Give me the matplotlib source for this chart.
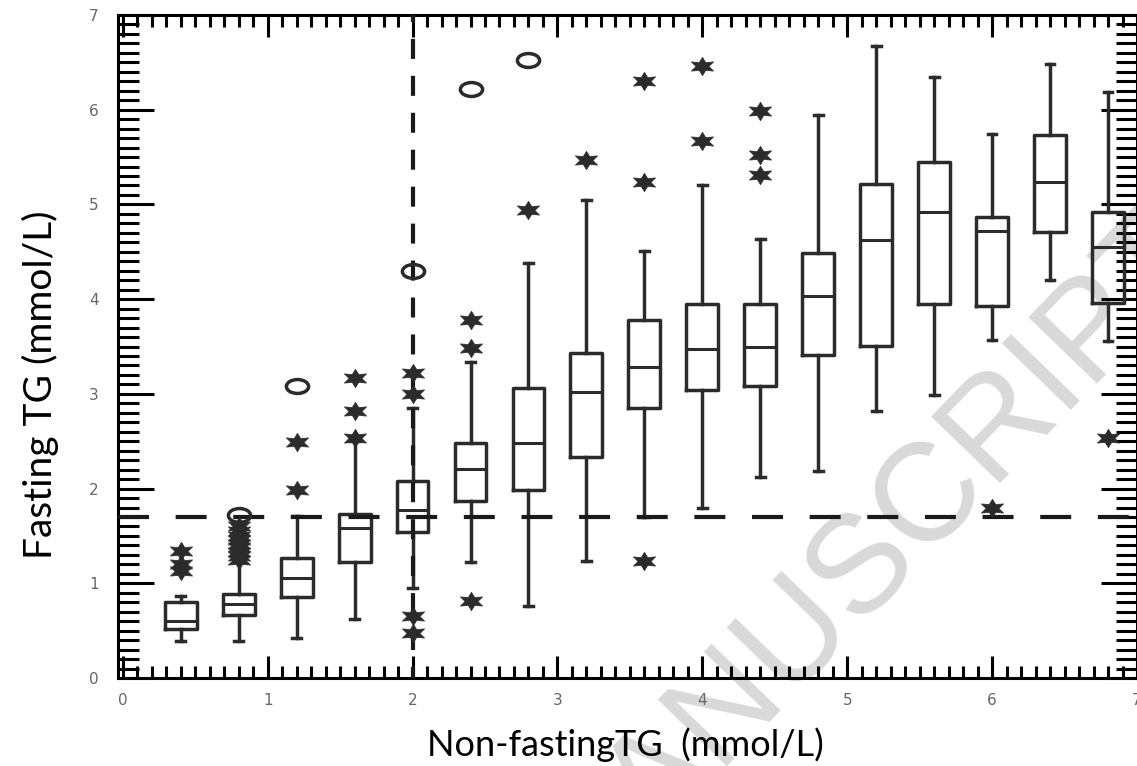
import numpy as np
import matplotlib
matplotlib.use("Agg")
import matplotlib.pyplot as plt
from matplotlib.path import Path
from matplotlib.ticker import MultipleLocator

plt.rcParams['lines.scale_dashes'] = False

# ---- data ----
positions = [0.4, 0.8, 1.2, 1.6, 2.0, 2.4, 2.8, 3.2, 3.6, 4.0, 4.4, 4.8, 5.2, 5.6, 6.0, 6.4, 6.8]
q1 = [0.52, 0.66, 0.85, 1.22, 1.54, 1.87, 1.98, 2.33, 2.85, 3.04, 3.08, 3.41, 3.51, 3.95, 3.93, 4.71, 3.96]
medians = [0.60, 0.78, 1.06, 1.58, 1.77, 2.21, 2.48, 3.02, 3.28, 3.47, 3.50, 4.03, 4.62, 4.92, 4.72, 5.24, 4.55]
q3 = [0.80, 0.89, 1.27, 1.73, 2.08, 2.48, 3.06, 3.43, 3.78, 3.95, 3.95, 4.49, 5.22, 5.45, 4.87, 5.73, 4.92]
whisk_lo = [0.39, 0.39, 0.42, 0.62, 0.95, 1.22, 0.76, 1.24, 1.70, 1.80, 2.12, 2.19, 2.82, 2.99, 3.57, 4.20, 3.56]
whisk_hi = [0.87, 1.22, 1.71, 2.50, 2.85, 3.34, 4.38, 5.05, 4.51, 5.20, 4.63, 5.94, 6.67, 6.35, 5.74, 6.48, 6.19]

star_x = [0.4, 0.4, 0.4,
          0.8, 0.8, 0.8, 0.8, 0.8, 0.8, 0.8, 0.8, 0.8,
          1.2, 1.2,
          1.6, 1.6, 1.6,
          2.0, 2.0, 2.0, 2.0,
          2.4, 2.4, 2.4,
          2.8, 3.2,
          3.6, 3.6, 3.6,
          4.0, 4.0,
          4.4, 4.4, 4.4,
          6.0, 6.8]
star_y = [1.13, 1.20, 1.34,
          1.25, 1.29, 1.33, 1.38, 1.42, 1.46, 1.50, 1.55, 1.60,
          1.99, 2.49,
          2.53, 2.82, 3.17,
          3.00, 3.22, 0.65, 0.48,
          3.48, 3.78, 0.81,
          4.94, 5.47,
          5.24, 6.30, 1.24,
          5.67, 6.46,
          5.31, 5.52, 5.99,
          1.80, 2.53]
circle_x = [0.8, 1.2, 2.0, 2.4, 2.8]
circle_y = [1.72, 3.08, 4.30, 6.22, 6.52]

fasting_cut = 1.7
nonfasting_cut = 2.0
xticks = [0, 1, 2, 3, 4, 5, 6, 7]
yticks = [0, 1, 2, 3, 4, 5, 6, 7]

# ---- figure ----
W, H = 1137, 766
fig = plt.figure(figsize=(W / 100, H / 100), dpi=100)
ax = fig.add_axes([118 / W, 1 - 678 / H, (1137 - 118) / W, (678 - 15) / H])

dark = '#2b2b2b'
stats = [dict(med=m, q1=a, q3=b, whislo=lo, whishi=hi, fliers=[])
         for m, a, b, lo, hi in zip(medians, q1, q3, whisk_lo, whisk_hi)]
ax.bxp(stats, positions=positions, widths=0.22, capwidths=0.06,
       showfliers=False, manage_ticks=False,
       boxprops=dict(color=dark, lw=2.5),
       whiskerprops=dict(color=dark, lw=2.5),
       capprops=dict(color=dark, lw=2.5),
       medianprops=dict(color=dark, lw=2.2))

# asterisk-like star marker, stretched horizontally
ang_out = np.deg2rad([90, 30, -30, -90, -150, 150])
verts = []
for a in ang_out:
    verts.append((np.cos(a), np.sin(a)))
    b = a - np.deg2rad(30)
    verts.append((0.5 * np.cos(b), 0.5 * np.sin(b)))
verts.append(verts[0])
verts = np.array(verts) * np.array([1.4, 1.0])
star_path = Path(verts, [Path.MOVETO] + [Path.LINETO] * (len(verts) - 2) + [Path.CLOSEPOLY])

uc = Path.unit_circle()
ell_path = Path(uc.vertices * np.array([1.6, 1.0]), uc.codes)

ax.plot(star_x, star_y, linestyle='none', marker=star_path, ms=16,
        mfc=dark, mec=dark, mew=0.5, zorder=4)
ax.plot(circle_x, circle_y, linestyle='none', marker=ell_path, ms=16,
        mfc='none', mec=dark, mew=2.5, zorder=4)

# reference lines
ax.plot([-0.033, 7.0], [fasting_cut, fasting_cut], color='#1a1a1a', lw=3,
        linestyle=(0, (22.3, 19.2)), zorder=3)
ax.plot([nonfasting_cut, nonfasting_cut], [7.0, 0.0], color='#1a1a1a', lw=3,
        linestyle=(9.4, (14.4, 12.2)), zorder=3)

# watermark
fig.text(865 / W, 1 - 560 / H, 'MANUSCRIPT', rotation=46, rotation_mode='anchor',
         ha='center', va='center', fontsize=100, color='#d9d9d9',
         family='Liberation Sans', zorder=0)
ax.set_zorder(1)
ax.patch.set_alpha(0)

ax.set_xlim(-0.033, 7.0)
ax.set_ylim(0, 7.0)
ax.set_xticks(xticks)
ax.set_yticks(yticks)
ax.set_xticklabels([str(t) for t in xticks])
ax.set_yticklabels([str(t) for t in yticks])
ax.xaxis.set_minor_locator(MultipleLocator(0.1))
ax.yaxis.set_minor_locator(MultipleLocator(0.1))

ax.tick_params(axis='both', which='both', direction='in', top=True, right=True,
               color='black', width=2.2)
ax.tick_params(axis='x', which='major', length=16, pad=11,
               labelsize=11, labelcolor='#666666')
ax.tick_params(axis='x', which='minor', length=8.5)
ax.tick_params(axis='y', which='major', length=26, pad=14,
               labelsize=11, labelcolor='#666666')
ax.tick_params(axis='y', which='minor', length=15)
for s in ax.spines.values():
    s.set_linewidth(2.2)
    s.set_color('black')

fig.text(625 / W, 1 - 745 / H, 'Non-fastingTG  (mmol/L)', ha='center', va='center',
         fontsize=26, family='Lato')
fig.text(40 / W, 1 - 385 / H, 'Fasting TG (mmol/L)', ha='center', va='center',
         rotation=90, fontsize=28, family='Lato')

fig.savefig('out.png', dpi=100)
